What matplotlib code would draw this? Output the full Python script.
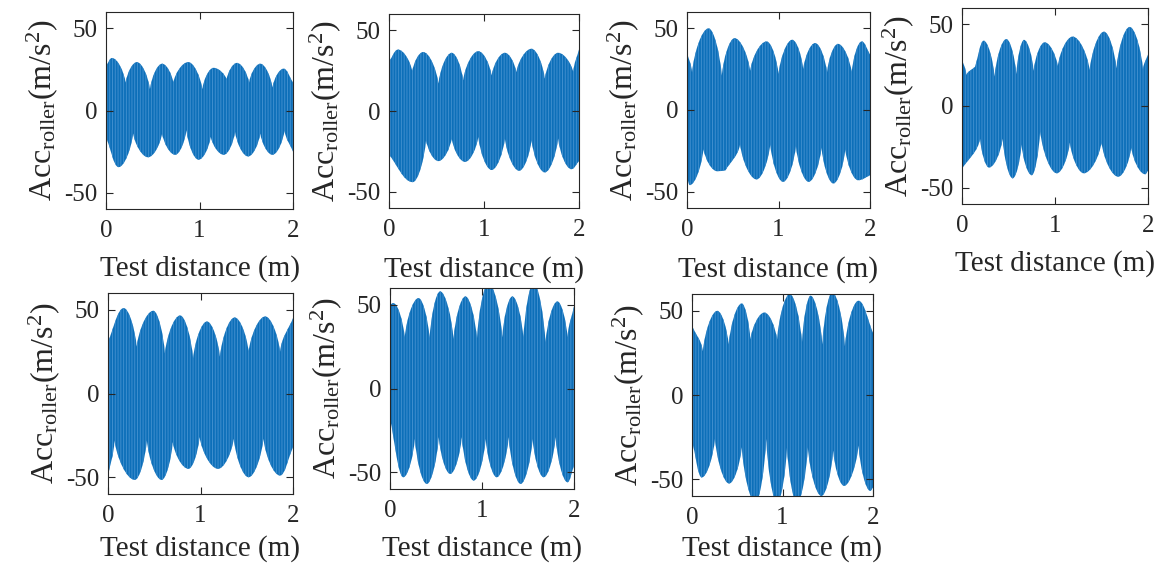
import matplotlib
matplotlib.use("Agg")
import matplotlib.pyplot as plt
from matplotlib.path import Path
from matplotlib.patches import PathPatch

plt.rcParams["font.family"] = "Liberation Serif"
plt.rcParams["mathtext.fontset"] = "custom"
plt.rcParams["mathtext.rm"] = "Liberation Serif"
plt.rcParams["mathtext.it"] = "Liberation Serif:italic"
plt.rcParams["axes.unicode_minus"] = False
plt.rcParams["hatch.linewidth"] = 0.7

# Envelope key points (distance in m, acceleration in m/s^2): peaks and cusps
# of the roller acceleration signal for each of the seven test runs.
run1_upper = [(0, 27), (0.064, 32), (0.21, 17), (0.33, 29.5), (0.47, 13), (0.60, 28.5),
              (0.72, 17), (0.88, 29.5), (1.03, 13), (1.15, 26), (1.29, 19), (1.40, 29),
              (1.53, 17), (1.65, 28.5), (1.78, 14), (1.90, 25.5), (2.0, 17)]
run1_lower = [(0, -16), (0.135, -34.5), (0.29, -14), (0.45, -28.5), (0.60, -14), (0.74, -27),
              (0.86, -12), (0.99, -30), (1.12, -16), (1.26, -27), (1.38, -13), (1.52, -28),
              (1.65, -14), (1.78, -27), (1.91, -12), (2.0, -25)]

run2_upper = [(0, 30.5), (0.095, 38), (0.245, 24.5), (0.36, 36.5), (0.52, 17), (0.66, 36),
              (0.78, 19), (0.94, 37), (1.08, 22), (1.22, 36), (1.34, 24), (1.50, 38.5),
              (1.64, 20), (1.78, 36), (1.94, 24), (2.0, 38)]
run2_lower = [(0, -27), (0.25, -44), (0.39, -18), (0.52, -31), (0.66, -17), (0.80, -31.5),
              (0.94, -16), (1.08, -36.5), (1.22, -17), (1.37, -37), (1.50, -18), (1.64, -38),
              (1.78, -17), (1.92, -36), (2.0, -31)]

run3_upper = [(0, 35), (0.055, 23), (0.236, 50), (0.38, 21), (0.52, 44), (0.69, 24),
              (0.87, 42), (1.0, 22), (1.15, 43), (1.27, 25), (1.40, 41), (1.53, 23),
              (1.65, 40.5), (1.80, 23), (1.91, 42), (2.0, 34)]
run3_lower = [(0, -41), (0.03, -46), (0.18, -24), (0.33, -37.5), (0.42, -37), (0.58, -21),
              (0.76, -42.5), (0.91, -21), (1.05, -44), (1.19, -22), (1.33, -44), (1.47, -23),
              (1.60, -45), (1.73, -24), (1.87, -43), (2.0, -40)]

run4_upper = [(0, 28.5), (0.047, 19), (0.14, 24), (0.233, 40), (0.35, 18), (0.477, 41),
              (0.584, 19.5), (0.667, 40.5), (0.77, 21.5), (0.889, 39), (1.03, 24.4), (1.19, 42.5),
              (1.373, 22), (1.527, 45.5), (1.66, 23), (1.803, 48.4), (1.946, 22.4), (2.0, 31.5)]
run4_lower = [(0, -38.5), (0.194, -20), (0.29, -37.7), (0.437, -20), (0.545, -44.3),
              (0.64, -23.5), (0.75, -42.4), (0.84, -15.3), (1.02, -41.2), (1.16, -22.4),
              (1.31, -41.2), (1.50, -22.4), (1.68, -43.3), (1.82, -25.5), (1.97, -41.8),
              (2.0, -39.6)]

run5_upper = [(0, 31), (0.17, 51), (0.31, 28), (0.49, 49.4), (0.615, 24), (0.78, 46.6),
              (0.92, 21), (1.07, 43), (1.21, 22), (1.37, 45.4), (1.52, 25), (1.70, 46),
              (1.86, 25), (2.0, 45)]
run5_lower = [(0, -49), (0.07, -28), (0.29, -51.6), (0.42, -28), (0.58, -51.6), (0.70, -29),
              (0.87, -45), (0.99, -26), (1.19, -45), (1.36, -27), (1.52, -50), (1.68, -27),
              (1.86, -49), (2.0, -32)]

run6_upper = [(0, 50), (0.036, 51), (0.16, 30.5), (0.31, 54), (0.43, 30), (0.545, 58),
              (0.69, 29.5), (0.82, 55), (0.945, 29.5), (1.07, 63), (1.22, 30.5), (1.33, 55),
              (1.45, 30), (1.56, 63), (1.69, 27.4), (1.82, 52), (1.93, 30.5), (2.0, 49)]
run6_lower = [(0, -18), (0.145, -53), (0.27, -30), (0.40, -57), (0.53, -29), (0.655, -51),
              (0.78, -29), (0.91, -55), (1.04, -30), (1.16, -53), (1.29, -29), (1.42, -57),
              (1.55, -30), (1.67, -53), (1.80, -29), (1.93, -56), (2.0, -46)]

run7_upper = [(0, 41), (0.12, 26), (0.28, 50), (0.405, 30), (0.55, 54.4), (0.645, 33),
              (0.80, 49), (0.94, 33), (1.08, 60), (1.215, 31), (1.31, 59), (1.44, 30),
              (1.55, 61), (1.69, 29), (1.84, 56), (2.0, 37)]
run7_lower = [(0, -27), (0.107, -49), (0.254, -26), (0.41, -52.6), (0.55, -31), (0.70, -64),
              (0.82, -26), (0.94, -64), (1.05, -31), (1.16, -64), (1.28, -31), (1.43, -60),
              (1.56, -33), (1.68, -54), (1.84, -30), (1.97, -57), (2.0, -55)]

runs = [
    (run1_upper, run1_lower), (run2_upper, run2_lower), (run3_upper, run3_lower),
    (run4_upper, run4_lower), (run5_upper, run5_lower), (run6_upper, run6_lower),
    (run7_upper, run7_lower),
]

x_ticks = [0, 1, 2]
y_ticks = [-50, 0, 50]

# axes boxes in pixels: left, top, right, bottom
boxes = [
    (106, 12, 293, 209), (389, 14, 579, 208), (687, 12, 870, 208), (962, 8, 1148, 204),
    (108, 293, 293, 494), (390, 288, 574, 489), (692, 294, 873, 496),
]
xlabel_pads = [9.5, 10.5, 11, 9.5, 5.5, 9, 4.5]

W, H = 1159, 566
blue = "#0D6FB9"
stripe = "#3F8ECE"
ink = "#262626"


def point_kind(pts, i, sign):
    if i == 0 or i == len(pts) - 1:
        return "mid"
    y = sign * pts[i][1]
    yl, yr = sign * pts[i - 1][1], sign * pts[i + 1][1]
    if y >= yl and y >= yr:
        return "peak"
    if y <= yl and y <= yr:
        return "cusp"
    return "mid"


def bezier_segments(pts, sign):
    # rounded lobes at the peaks, sharp notches at the cusps
    verts = []
    for i in range(len(pts) - 1):
        (x0, y0), (x1, y1) = pts[i], pts[i + 1]
        dx = x1 - x0
        k0, k1 = point_kind(pts, i, sign), point_kind(pts, i + 1, sign)
        if k0 == "peak":
            c1 = (x0 + 0.4 * dx, y0)
        elif k0 == "cusp":
            c1 = (x0 + 0.12 * dx, y0 + 0.45 * (y1 - y0))
        else:
            c1 = (x0 + dx / 3, y0 + (y1 - y0) / 3)
        if k1 == "peak":
            c2 = (x1 - 0.4 * dx, y1)
        elif k1 == "cusp":
            c2 = (x1 - 0.12 * dx, y1 + 0.45 * (y0 - y1))
        else:
            c2 = (x1 - dx / 3, y1 - (y1 - y0) / 3)
        verts += [c1, c2, (x1, y1)]
    return verts


def signal_patch(upper, lower):
    verts = [upper[0]] + bezier_segments(upper, 1)
    codes = [Path.MOVETO] + [Path.CURVE4] * (len(verts) - 1)
    low = lower[::-1]
    lverts = [low[0]] + bezier_segments(low, -1)
    verts += lverts + [upper[0]]
    codes += [Path.LINETO] + [Path.CURVE4] * (len(lverts) - 1) + [Path.CLOSEPOLY]
    # edgecolor only tints the vertical hatch; the outline itself has zero width
    return PathPatch(Path(verts, codes), facecolor=blue, edgecolor=stripe, lw=0,
                     hatch="||||||")


fig = plt.figure(figsize=(W / 100, H / 100), dpi=100)

for (upper, lower), (l, t, r, b), lp in zip(runs, boxes, xlabel_pads):
    ax = fig.add_axes([l / W, 1 - b / H, (r - l) / W, (b - t) / H])
    ax.add_patch(signal_patch(upper, lower))
    ax.set_xlim(0, 2)
    ax.set_ylim(-60, 60)
    ax.set_xticks(x_ticks)
    ax.set_yticks(y_ticks)
    ax.tick_params(direction="in", top=True, right=True, length=5, width=0.8,
                   labelsize=18, colors=ink)
    ax.tick_params(axis="x", pad=8)
    ax.tick_params(axis="y", pad=6)
    for s in ax.spines.values():
        s.set_color(ink)
        s.set_linewidth(0.8)
    ax.set_xlabel("Test distance (m)", fontsize=21, color=ink, labelpad=lp)
    ax.set_ylabel(r"Acc$_{\mathrm{roller}}$(m/s$^{2}$)", fontsize=23, color=ink, labelpad=3)

fig.savefig("out.png", dpi=100)
